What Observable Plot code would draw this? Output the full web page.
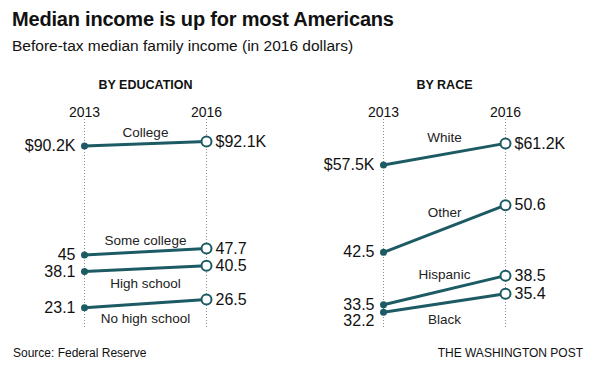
<!DOCTYPE html>
<html><head><meta charset="utf-8">
<script src="https://cdn.jsdelivr.net/npm/d3@7"></script>
<script src="https://cdn.jsdelivr.net/npm/@observablehq/plot@0.6"></script>
<style>
body{margin:0;background:#fff;font-family:"Liberation Sans",Arial,sans-serif;color:#111;width:593px;height:378px;overflow:hidden;position:relative}
#title{position:absolute;left:12px;top:6px;font-size:20px;font-weight:bold;line-height:26px;letter-spacing:-0.2px;white-space:nowrap}
#subtitle{position:absolute;left:12px;top:36px;font-size:15.5px;line-height:20px;white-space:nowrap}
#charts{position:absolute;left:0;top:70px;display:flex}
#source{position:absolute;left:13px;top:346px;font-size:12px;line-height:14px}
#credit{position:absolute;right:10px;top:346px;font-size:12px;line-height:14px}
</style>
</head><body>
<div id="title">Median income is up for most Americans</div>
<div id="subtitle">Before-tax median family income (in 2016 dollars)</div>
<div id="charts"></div>
<div id="source">Source: Federal Reserve</div>
<div id="credit">THE WASHINGTON POST</div>
<script>
const years = [2013, 2016];
const panelTitles = ["BY EDUCATION", "BY RACE"];

const eduCategories = ["College", "Some college", "High school", "No high school"];
const edu2013 = [90.2, 45, 38.1, 23.1];
const edu2016 = [92.1, 47.7, 40.5, 26.5];
const eduLabelSide = ["above", "above", "below", "below"];

const raceCategories = ["White", "Other", "Hispanic", "Black"];
const race2013 = [57.5, 42.5, 33.5, 32.2];
const race2016 = [61.2, 50.6, 38.5, 35.4];
const raceLabelSide = ["above", "above", "above", "below"];

const teal = "#1c5b63";
const W = 296, H = 262, MT = 49, MB = 5;

function spread(vals, domain, minPx) {
  const perPx = (domain[1] - domain[0]) / (H - MT - MB);
  const gap = minPx * perPx;
  const order = d3.range(vals.length).sort((a, b) => vals[b] - vals[a]);
  const out = vals.slice();
  let prev = Infinity;
  for (const i of order) { out[i] = Math.min(vals[i], prev - gap); prev = out[i]; }
  return out;
}

function panel(title, cats, v13, v16, sides, cfg) {
  const fmt = (v, i) => i === 0 ? `$${v}K` : `${v}`;
  const l13 = spread(v13, cfg.domain, 16);
  const l16 = spread(v16, cfg.domain, 16);
  const rows = cats.map((name, i) => ({
    name, v13: v13[i], v16: v16[i], l13: l13[i], l16: l16[i],
    t13: fmt(v13[i], i), t16: fmt(v16[i], i), side: sides[i]
  }));
  const mid = d3.mean(years);
  return Plot.plot({
    width: W, height: H, marginTop: MT, marginBottom: MB,
    marginLeft: cfg.ml, marginRight: cfg.mr,
    x: {type: "linear", domain: years, axis: null},
    y: {domain: cfg.domain, axis: null},
    style: {fontFamily: '"Liberation Sans",Arial,sans-serif', color: "#111", background: "transparent", overflow: "visible"},
    marks: [
      Plot.ruleX(years, {x: d => d, stroke: "#8a8a8a", strokeDasharray: "1,2", strokeWidth: 1}),
      Plot.link(rows, {x1: () => years[0], x2: () => years[1], y1: "v13", y2: "v16", stroke: teal, strokeWidth: 3}),
      Plot.dot(rows, {x: () => years[0], y: "v13", r: 3.5, fill: teal}),
      Plot.dot(rows, {x: () => years[1], y: "v16", r: 5, fill: "white", stroke: teal, strokeWidth: 2}),
      Plot.text(rows, {x: () => years[0], y: "l13", text: "t13", textAnchor: "end", dx: -9, fontSize: 16, fill: "#111"}),
      Plot.text(rows, {x: () => years[1], y: "l16", text: "t16", textAnchor: "start", dx: 9, fontSize: 16, fill: "#111"}),
      Plot.text(rows.filter(d => d.side === "above"), {x: () => mid, y: d => (d.v13 + d.v16) / 2, text: "name", dy: cfg.above, fontSize: 13.5, fill: "#222"}),
      Plot.text(rows.filter(d => d.side === "below"), {x: () => mid, y: d => (d.v13 + d.v16) / 2, text: "name", dy: cfg.below, fontSize: 13.5, fill: "#222"}),
      Plot.text(years, {x: d => d, text: d => String(d), frameAnchor: "top", dy: -12, fontSize: 14, fill: "#111"}),
      Plot.text([title], {frameAnchor: "top", dy: -39, fontSize: 12.5, fontWeight: "bold", fill: "#111"})
    ]
  });
}

const charts = document.getElementById("charts");
charts.append(panel(panelTitles[0], eduCategories, edu2013, edu2016, eduLabelSide,
  {domain: [14.9, 101.2], ml: 84, mr: 90, above: -11, below: 15}));
charts.append(panel(panelTitles[1], raceCategories, race2013, race2016, raceLabelSide,
  {domain: [29.6, 65.3], ml: 87, mr: 87, above: -16, below: 17}));
</script>
</body></html>
